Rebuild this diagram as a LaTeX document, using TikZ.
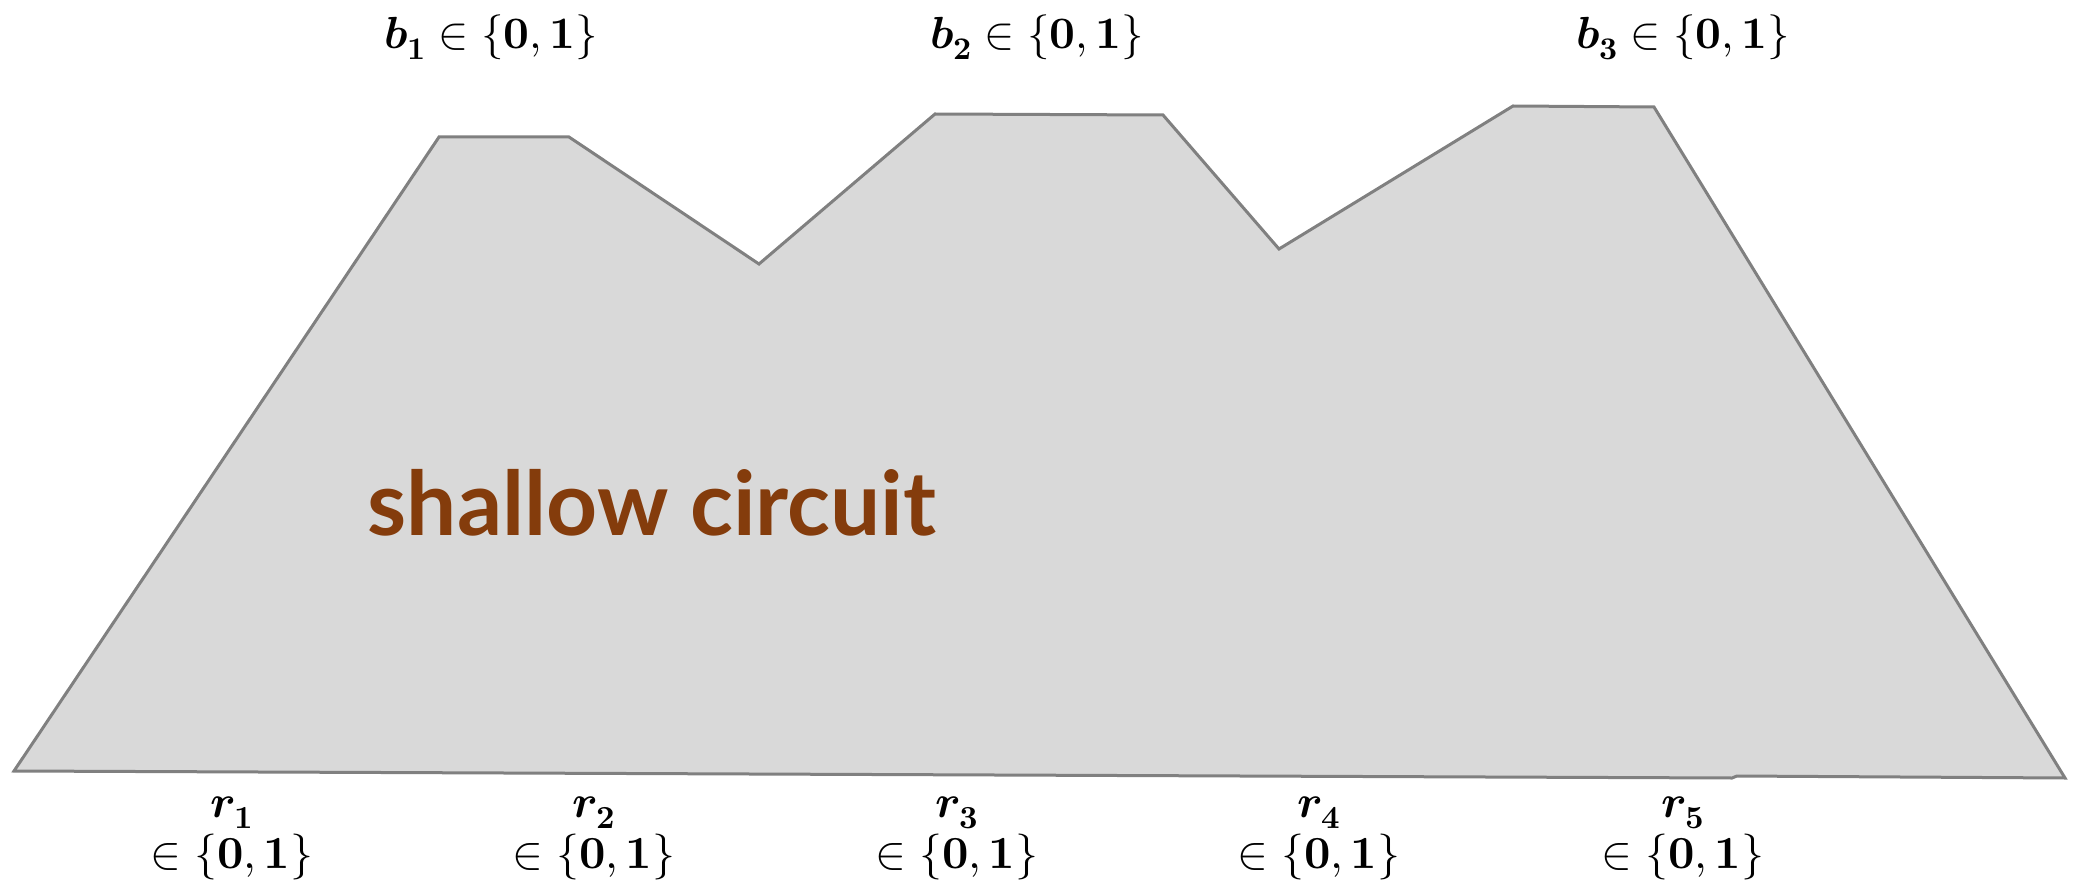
\documentclass[tikz,border=0pt]{standalone}
\usepackage{amsmath}
\usepackage{fontspec}
\usepackage{unicode-math}
\setmathfont{Latin Modern Math}
\newfontfamily\circfont{Lato}
\definecolor{circfill}{HTML}{D9D9D9}
\definecolor{circline}{HTML}{808080}
\definecolor{circtext}{HTML}{843C0C}
\tikzset{
  circuitshape/.style={fill=circfill,draw=circline,line width=3pt,line join=miter},
  toplab/.style={inner sep=0pt,font=\fontsize{45}{50}\selectfont},
  botlab/.style={inner sep=0pt,align=center,font=\fontsize{46}{51}\selectfont},
  circlab/.style={inner sep=0pt,text=circtext,font=\circfont\bfseries\fontsize{89}{96}\selectfont}
}
\begin{document}
\begin{tikzpicture}[x=1pt,y=-1pt]
\useasboundingbox (0,0) rectangle (2085,890);
\coordinate (A) at (14,771);
\coordinate (B) at (439,137);
\coordinate (C) at (569,137);
\coordinate (D) at (759,264);
\coordinate (E) at (935,114);
\coordinate (F) at (1163,115);
\coordinate (G) at (1279,249);
\coordinate (H) at (1513,106);
\coordinate (I) at (1654,107);
\coordinate (J) at (2065,778);
\coordinate (K1) at (1737,776);
\coordinate (K2) at (1732,778);
\draw[circuitshape] (A) -- (B) -- (C) -- (D) -- (E) -- (F) -- (G) -- (H) -- (I) -- (J) -- (K1) -- (K2) -- cycle;
\node[circlab] (sc) at (652,503) {shallow circuit};
\node[toplab] (b1) at (491,37) {$\symbfit{b}_{\symbf{1}} \in \{\symbf{0},\symbf{1}\}$};
\node[toplab] (b2) at (1037,37) {$\symbfit{b}_{\symbf{2}} \in \{\symbf{0},\symbf{1}\}$};
\node[toplab] (b3) at (1683,37) {$\symbfit{b}_{\symbf{3}} \in \{\symbf{0},\symbf{1}\}$};
\node[botlab] (r1) at (232,838) {$\symbfit{r}_{\symbf{1}}$\\$\in\{\symbf{0},\symbf{1}\}$};
\node[botlab] (r2) at (594,838) {$\symbfit{r}_{\symbf{2}}$\\$\in\{\symbf{0},\symbf{1}\}$};
\node[botlab] (r3) at (957,838) {$\symbfit{r}_{\symbf{3}}$\\$\in\{\symbf{0},\symbf{1}\}$};
\node[botlab] (r4) at (1319,838) {$\symbfit{r}_{\symbf{4}}$\\$\in\{\symbf{0},\symbf{1}\}$};
\node[botlab] (r5) at (1683,838) {$\symbfit{r}_{\symbf{5}}$\\$\in\{\symbf{0},\symbf{1}\}$};
\end{tikzpicture}
\end{document}
